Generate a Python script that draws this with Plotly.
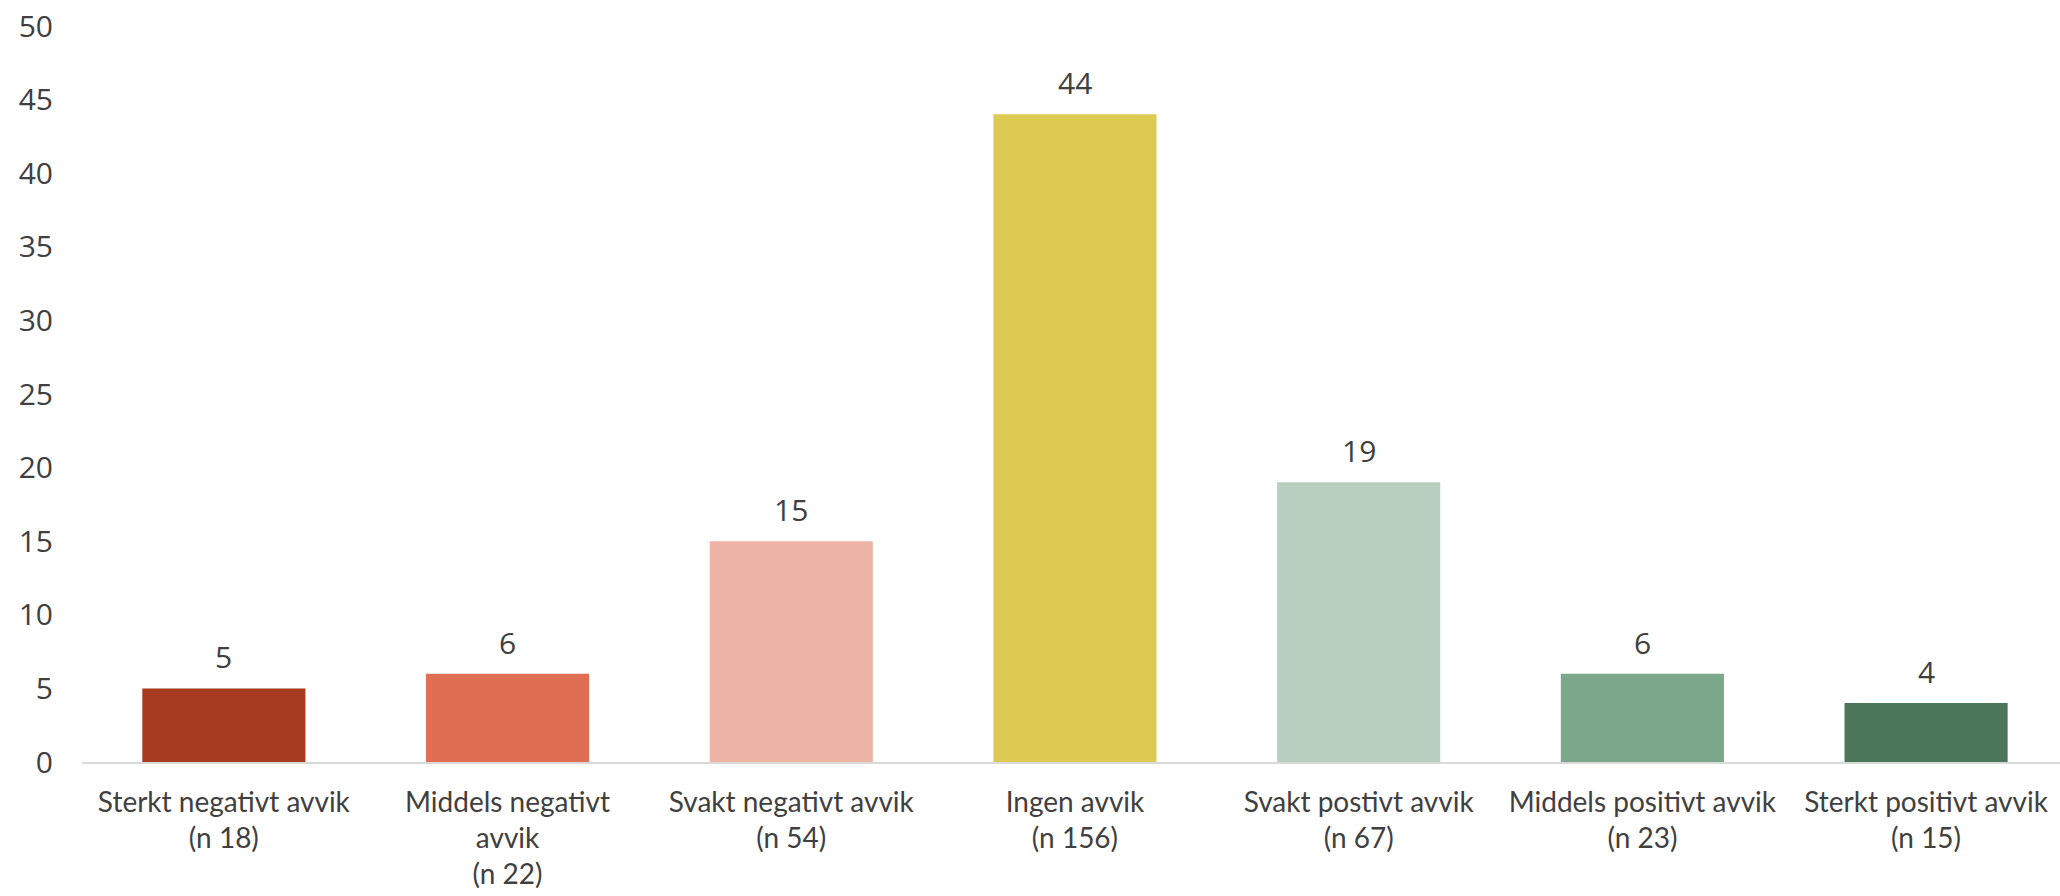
import plotly.graph_objects as go

categories = [
    "Sterkt negativt avvik<br>(n 18)",
    "Middels negativt<br>avvik<br>(n 22)",
    "Svakt negativt avvik<br>(n 54)",
    "Ingen avvik<br>(n 156)",
    "Svakt postivt avvik<br>(n 67)",
    "Middels positivt avvik<br>(n 23)",
    "Sterkt positivt avvik<br>(n 15)",
]
values = [5, 6, 15, 44, 19, 6, 4]
bar_colors = ["#A63B20", "#E06E52", "#EEB4A5", "#DDCA52", "#B6CFBE", "#7BA78A", "#4B765A"]
y_ticks = list(range(0, 55, 5))

TEXT = "#404040"
NUM_FONT = "Open Sans, Noto Sans, sans-serif"
CAT_FONT = "Lato, Carlito, Noto Sans, sans-serif"

fig = go.Figure(go.Bar(
    x=categories, y=values,
    marker=dict(color=bar_colors, line=dict(width=0)),
    width=0.575,
    hoverinfo="x+y",
))

# data labels above bars
for c, v in zip(categories, values):
    fig.add_annotation(x=c, y=v, text=str(v), showarrow=False,
                       yanchor="bottom", yshift=9,
                       font=dict(family=NUM_FONT, size=30, color=TEXT))

fig.update_layout(
    width=2060, height=896,
    margin=dict(l=82, r=0, t=26, b=134),
    paper_bgcolor="white", plot_bgcolor="white",
    showlegend=False,
    xaxis=dict(
        range=[-0.5, 6.472], automargin=False,
        showline=True, linecolor="#D9D9D9", linewidth=2,
        showgrid=False, ticks="",
        tickfont=dict(family=CAT_FONT, size=28, color=TEXT),
        ticklabelstandoff=14,
    ),
    yaxis=dict(
        range=[0, 50], tickvals=y_ticks, automargin=False,
        showgrid=False, zeroline=False, showline=False, ticks="",
        tickfont=dict(family=NUM_FONT, size=30, color=TEXT),
        ticklabelstandoff=28,
    ),
)

# drop the default page margin so the figure fills the window
fig.write_html("out.html",
               config={"displayModeBar": False},
               post_script="document.body.style.margin='0';document.body.style.overflow='hidden';")
